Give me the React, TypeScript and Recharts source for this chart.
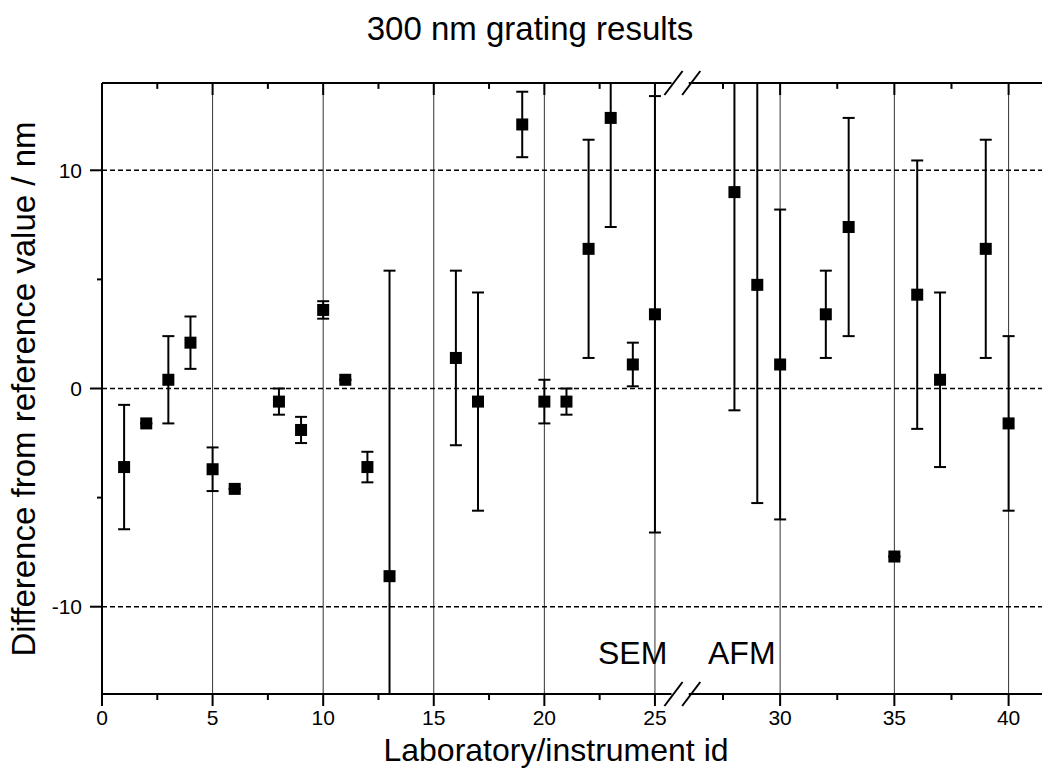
import React from 'react';
import { ScatterChart, Scatter, XAxis, YAxis, ErrorBar, ReferenceLine } from 'recharts';

// Lab ids that reported a result, their difference from the reference value (nm)
// and the stated uncertainty (nm). Ids 7, 14, 15, 18, 26, 27, 31, 34, 38 have no result.
const labIds = [1, 2, 3, 4, 5, 6, 8, 9, 10, 11, 12, 13, 16, 17, 19, 20, 21, 22, 23, 24, 25, 28, 29, 30, 32, 33, 35, 36, 37, 39, 40];
const differences = [-3.6, -1.6, 0.4, 2.1, -3.7, -4.6, -0.6, -1.9, 3.6, 0.4, -3.6, -8.6, 1.4, -0.6, 12.1, -0.6, -0.6, 6.4, 12.4, 1.1, 3.4, 9.0, 4.75, 1.1, 3.4, 7.4, -7.7, 4.3, 0.4, 6.4, -1.6];
const uncertainties = [2.85, 0, 2, 1.2, 1, 0, 0.6, 0.6, 0.4, 0, 0.7, 14, 4, 5, 1.5, 1, 0.6, 5, 5, 1, 10, 10, 10, 7.1, 2, 5, 0, 6.15, 4, 5, 4];

const xMajorTicks = [0, 5, 10, 15, 20, 25, 30, 35, 40];
const xMinorTicks = [2.5, 7.5, 12.5, 17.5, 22.5, 27.5, 32.5, 37.5];
const yMajorTicks = [-10, 0, 10];
const yMinorTicks = [-5, 5];
const refLevels = [-10, 0, 10];

const FONT = "'Liberation Sans', Arial, sans-serif";
const W = 1043;
const H = 776;

// broken x axis: SEM part (0..25.75) then AFM part (26..) drawn slightly wider
const LEFT_END = 25.75;
const RIGHT_START = 26;
const RIGHT_ANCHOR = 30.66; // axis position of id 30
const RIGHT_STRETCH = 1.033;
const AXIS_MAX = 42.5;
const Y_MIN = -14;
const Y_MAX = 14;

const toAxis = (id: number) => (id <= LEFT_END ? id : RIGHT_ANCHOR + (id - 30) * RIGHT_STRETCH);
const fromAxis = (u: number) => (u <= LEFT_END ? u : 30 + (u - RIGHT_ANCHOR) / RIGHT_STRETCH);

const data = labIds.map((id, i) => ({
  pos: toAxis(id),
  diff: differences[i],
  err: uncertainties[i],
}));

// error bars stop at the frame, like the original plot
const clippedErr = (d: any) => [Math.min(d.err, d.diff - Y_MIN), Math.min(d.err, Y_MAX - d.diff)];

const xTicks = [...xMajorTicks, ...xMinorTicks].sort((a, b) => a - b).map(toAxis);
const yTicks = [...yMajorTicks, ...yMinorTicks].sort((a, b) => a - b);

const idOf = (u: number) => Math.round(fromAxis(u) * 10) / 10;

const BottomTick = (props: any) => {
  const { x, y, payload } = props;
  const id = idOf(payload.value);
  const major = id % 5 === 0;
  return (
    <g>
      <line x1={x} x2={x} y1={y} y2={y + (major ? 12 : 6)} stroke="#000" strokeWidth={2} />
      {major && (
        <text x={x} y={y + 31} textAnchor="middle" fontSize={21} fontFamily={FONT} fill="#000">
          {id}
        </text>
      )}
    </g>
  );
};

const LeftTick = (props: any) => {
  const { x, y, payload } = props;
  const major = payload.value % 10 === 0;
  return (
    <g>
      <line x1={x - (major ? 12 : 5)} x2={x} y1={y} y2={y} stroke="#000" strokeWidth={2} />
      {major && (
        <text x={x - 20} y={y + 7.5} textAnchor="end" fontSize={21} fontFamily={FONT} fill="#000">
          {payload.value}
        </text>
      )}
    </g>
  );
};

const Marker = (props: any) => <rect x={props.cx - 6} y={props.cy - 6} width={12} height={12} fill="#000" />;

// inward ticks on the top frame, in y units (about 12px / 6px)
const TOP_MAJOR = 0.55;
const TOP_MINOR = 0.27;

// the // marks on the broken axis
const slashCenters = [25.84, 26.64];
const SLASH_DX = 0.41;
const SLASH_DY = 0.55;

export default function App() {
  return (
    <div style={{ position: 'absolute', left: 0, top: 0, width: W, height: H, background: '#fff' }}>
      <ScatterChart width={W} height={H} margin={{ top: 83, right: 1, left: 0, bottom: 0 }}>
        <XAxis
          type="number"
          dataKey="pos"
          domain={[0, AXIS_MAX]}
          ticks={xTicks}
          interval={0}
          height={82}
          axisLine={false}
          tickLine={false}
          tickSize={0}
          tickMargin={0}
          tick={<BottomTick />}
        />
        <YAxis
          type="number"
          dataKey="diff"
          domain={[Y_MIN, Y_MAX]}
          allowDataOverflow
          ticks={yTicks}
          interval={0}
          width={102}
          axisLine={{ stroke: '#000', strokeWidth: 2 }}
          tickLine={false}
          tickSize={0}
          tickMargin={0}
          tick={<LeftTick />}
        />

        {xMajorTicks.slice(1).map((t) => (
          <ReferenceLine key={`v${t}`} x={toAxis(t)} stroke="#333" strokeWidth={1} />
        ))}
        {refLevels.map((v) => (
          <ReferenceLine key={`h${v}`} y={v} stroke="#000" strokeWidth={1.5} strokeDasharray="5 3" />
        ))}

        {xTicks.map((u) => (
          <ReferenceLine
            key={`t${u}`}
            ifOverflow="visible"
            segment={[
              { x: u, y: Y_MAX },
              { x: u, y: Y_MAX - (idOf(u) % 5 === 0 ? TOP_MAJOR : TOP_MINOR) },
            ]}
            stroke="#000"
            strokeWidth={2}
          />
        ))}

        {[Y_MIN, Y_MAX].map((yv) => (
          <ReferenceLine
            key={`a${yv}l`}
            ifOverflow="visible"
            segment={[{ x: 0, y: yv }, { x: LEFT_END, y: yv }]}
            stroke="#000"
            strokeWidth={2}
          />
        ))}
        {[Y_MIN, Y_MAX].map((yv) => (
          <ReferenceLine
            key={`a${yv}r`}
            ifOverflow="visible"
            segment={[{ x: toAxis(RIGHT_START), y: yv }, { x: AXIS_MAX, y: yv }]}
            stroke="#000"
            strokeWidth={2}
          />
        ))}
        {[Y_MIN, Y_MAX].flatMap((yv) =>
          slashCenters.map((c) => (
            <ReferenceLine
              key={`s${yv}${c}`}
              ifOverflow="visible"
              segment={[
                { x: c - SLASH_DX, y: yv - SLASH_DY },
                { x: c + SLASH_DX, y: yv + SLASH_DY },
              ]}
              stroke="#000"
              strokeWidth={2}
            />
          ))
        )}

        <Scatter data={data} shape={<Marker />} isAnimationActive={false}>
          <ErrorBar dataKey={clippedErr} direction="y" width={6} stroke="#000" strokeWidth={2} isAnimationActive={false} />
        </Scatter>
      </ScatterChart>

      <svg
        width={W}
        height={H}
        style={{ position: 'absolute', left: 0, top: 0, pointerEvents: 'none' }}
        fontFamily={FONT}
      >
        <text x={530} y={40} textAnchor="middle" fontSize={33} fill="#000">
          300 nm grating results
        </text>
        <text x={556} y={761} textAnchor="middle" fontSize={32} fill="#000">
          Laboratory/instrument id
        </text>
        <text x={35} y={389} textAnchor="middle" fontSize={33} fill="#000" transform="rotate(-90 35 389)">
          Difference from reference value / nm
        </text>
        <text x={598} y={664} fontSize={32} fill="#000">
          SEM
        </text>
        <text x={708} y={664} fontSize={32} fill="#000">
          AFM
        </text>
      </svg>
    </div>
  );
}
